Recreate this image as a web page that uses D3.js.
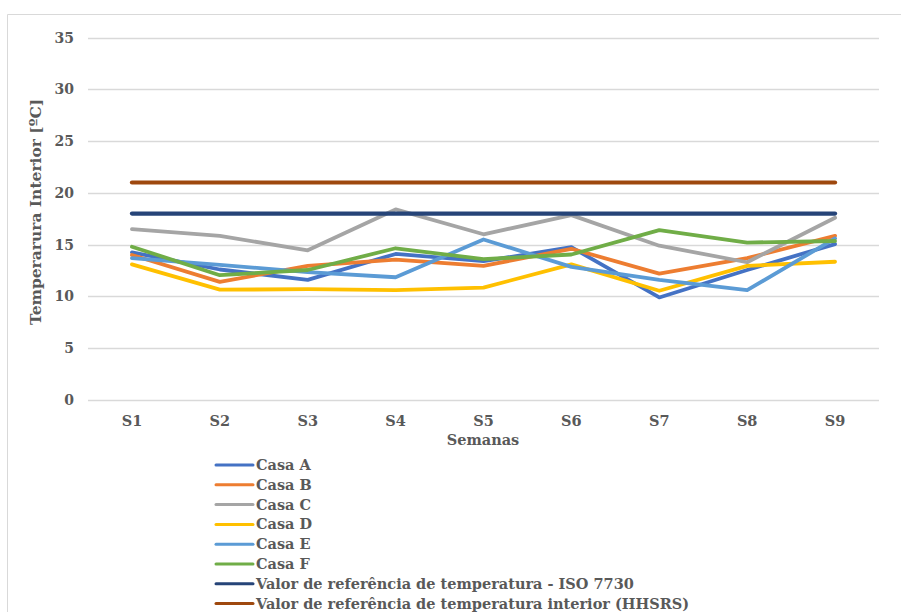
<!DOCTYPE html>
<html>
<head>
<meta charset="utf-8">
<script src="https://cdn.jsdelivr.net/npm/d3@7"></script>
<style>
  html, body { margin: 0; padding: 0; background: #fff; }
  svg { display: block; }
  .lbl { font-family: "DejaVu Serif", Georgia, serif; font-weight: bold; fill: #595959; }
</style>
</head>
<body>
<svg id="chart" width="901" height="612"></svg>
<script>
// weekly indoor temperatures
const weeks = ["S1", "S2", "S3", "S4", "S5", "S6", "S7", "S8", "S9"];
const casaA = [14.25, 12.6, 11.6, 14.1, 13.4, 14.75, 9.9, 12.55, 15.05];
const casaB = [14.0, 11.4, 12.95, 13.55, 12.95, 14.6, 12.2, 13.7, 15.85];
const casaC = [16.5, 15.85, 14.45, 18.4, 16.0, 17.85, 14.9, 13.3, 17.6];
const casaD = [13.1, 10.65, 10.7, 10.6, 10.85, 13.1, 10.55, 12.95, 13.35];
const casaE = [13.7, 13.05, 12.35, 11.85, 15.5, 12.85, 11.6, 10.6, 15.6];
const casaF = [14.8, 12.05, 12.55, 14.65, 13.6, 14.05, 16.4, 15.2, 15.35];
const iso7730 = weeks.map(() => 18);
const hhsrs = weeks.map(() => 21);
const yTicks = [0, 5, 10, 15, 20, 25, 30, 35];

const series = [
  { name: "Casa A", values: casaA, color: "#4472C4", w: 3.8 },
  { name: "Casa B", values: casaB, color: "#ED7D31", w: 3.8 },
  { name: "Casa C", values: casaC, color: "#A5A5A5", w: 3.8 },
  { name: "Casa D", values: casaD, color: "#FFC000", w: 3.8 },
  { name: "Casa E", values: casaE, color: "#5B9BD5", w: 3.8 },
  { name: "Casa F", values: casaF, color: "#70AD47", w: 3.8 },
  { name: "Valor de referência de temperatura - ISO 7730", values: iso7730, color: "#264478", w: 4.2 },
  { name: "Valor de referência de temperatura interior (HHSRS)", values: hhsrs, color: "#9E480E", w: 4.2 },
];

const svg = d3.select("#chart");

// chart frame (only top and left edges are visible in the picture)
svg.append("path")
  .attr("d", "M7.5,612 V14.5 H901")
  .attr("fill", "none")
  .attr("stroke", "#d9d9d9")
  .attr("stroke-width", 1);

const x = d3.scaleBand().domain(weeks).range([88, 879]);
const cx = (d) => x(d) + x.bandwidth() / 2;
const y = d3.scaleLinear().domain([0, 35]).range([400, 37.5]);

// gridlines
svg.append("g")
  .selectAll("line")
  .data(yTicks)
  .join("line")
  .attr("x1", 88)
  .attr("x2", 879)
  .attr("y1", (d) => Math.round(y(d)) + 0.5)
  .attr("y2", (d) => Math.round(y(d)) + 0.5)
  .attr("stroke", "#d9d9d9")
  .attr("stroke-width", 1.3);

// y tick labels
svg.append("g")
  .selectAll("text")
  .data(yTicks)
  .join("text")
  .attr("class", "lbl")
  .attr("x", 74)
  .attr("y", (d) => y(d) + 5)
  .attr("text-anchor", "end")
  .attr("font-size", 14)
  .text((d) => d);

// x tick labels
svg.append("g")
  .selectAll("text")
  .data(weeks)
  .join("text")
  .attr("class", "lbl")
  .attr("x", (d) => cx(d))
  .attr("y", 426)
  .attr("text-anchor", "middle")
  .attr("font-size", 14.5)
  .text((d) => d);

// axis titles
svg.append("text")
  .attr("class", "lbl")
  .attr("x", 483)
  .attr("y", 445)
  .attr("text-anchor", "middle")
  .attr("font-size", 14.5)
  .text("Semanas");
svg.append("text")
  .attr("class", "lbl")
  .attr("transform", "translate(41,212) rotate(-90)")
  .attr("text-anchor", "middle")
  .attr("font-size", 15.5)
  .text("Temperarura Interior [ºC]");

// series lines
const line = d3.line()
  .x((d, i) => cx(weeks[i]))
  .y((d) => y(d));

svg.append("g")
  .selectAll("path")
  .data(series)
  .join("path")
  .attr("d", (s) => line(s.values))
  .attr("fill", "none")
  .attr("stroke", (s) => s.color)
  .attr("stroke-width", (s) => s.w)
  .attr("stroke-linejoin", "round")
  .attr("stroke-linecap", "round");

// legend
const legend = svg.append("g")
  .selectAll("g")
  .data(series)
  .join("g")
  .attr("transform", (d, i) => `translate(216,${465 + i * 19.8})`);
legend.append("line")
  .attr("x1", 0)
  .attr("x2", 37)
  .attr("stroke", (d) => d.color)
  .attr("stroke-width", 3)
  .attr("stroke-linecap", "round");
legend.append("text")
  .attr("class", "lbl")
  .attr("x", 40)
  .attr("y", 5)
  .attr("font-size", 14.5)
  .text((d) => d.name);
</script>
</body>
</html>
